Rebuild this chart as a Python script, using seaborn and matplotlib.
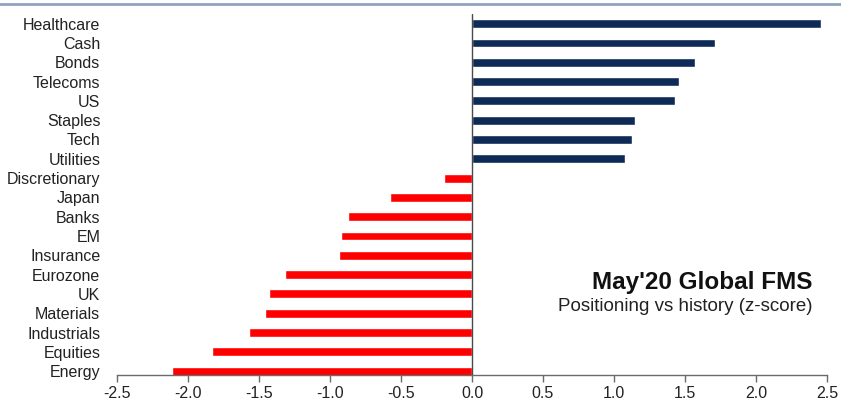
import matplotlib
matplotlib.use("Agg")
import matplotlib.pyplot as plt
import seaborn as sns
import pandas as pd

categories = ["Healthcare", "Cash", "Bonds", "Telecoms", "US", "Staples", "Tech",
              "Utilities", "Discretionary", "Japan", "Banks", "EM", "Insurance",
              "Eurozone", "UK", "Materials", "Industrials", "Equities", "Energy"]
zscores = [2.46, 1.71, 1.57, 1.46, 1.43, 1.15, 1.13, 1.08, -0.20, -0.58, -0.87,
           -0.92, -0.94, -1.32, -1.43, -1.46, -1.57, -1.83, -2.11]
x_ticks = [-2.5, -2.0, -1.5, -1.0, -0.5, 0.0, 0.5, 1.0, 1.5, 2.0, 2.5]

NAVY = "#0e2a57"
RED = "#ff0000"

df = pd.DataFrame({"category": categories, "z": zscores})
palette = {c: (NAVY if v > 0 else RED) for c, v in zip(categories, zscores)}

sns.set_theme(style="white")
plt.rcParams["font.family"] = ["Liberation Sans", "DejaVu Sans"]

fig = plt.figure(figsize=(8.41, 4.08), dpi=100)
ax = fig.add_axes([117 / 841, 1 - 375 / 408, 710 / 841, (375 - 14) / 408])

sns.barplot(data=df, x="z", y="category", hue="category", palette=palette,
            orient="h", width=0.46, legend=False, ax=ax, saturation=1)

ax.set_xlim(-2.5, 2.5)
ax.set_ylim(18.2, -0.5)
ax.axvline(0, color="#4a4a4a", lw=1.0, zorder=3)

ax.set_xticks(x_ticks)
ax.set_xticklabels([f"{t:.1f}" for t in x_ticks])
ax.set_xlabel("")
ax.set_ylabel("")

for s in ["top", "right", "left"]:
    ax.spines[s].set_visible(False)
ax.spines["bottom"].set_color("#6a6a6a")
ax.spines["bottom"].set_linewidth(1.0)
ax.tick_params(axis="x", direction="out", length=5, width=1, color="#6a6a6a",
               labelsize=11.5, labelcolor="#222222", pad=3, bottom=True)
ax.tick_params(axis="y", length=0, labelsize=11.5, labelcolor="#222222", pad=12)

ax.text(0.98, 0.255, "May'20 Global FMS", transform=ax.transAxes, ha="right",
        va="center", fontsize=17.5, fontweight="bold", color="#111111")
ax.text(0.98, 0.19, "Positioning vs history (z-score)", transform=ax.transAxes,
        ha="right", va="center", fontsize=13.5, color="#222222")

# header rule along the top edge
fig.add_artist(plt.Line2D([0, 1], [1 - 3.5 / 408, 1 - 3.5 / 408],
                          transform=fig.transFigure, color="#8ea3bd", lw=2))

fig.savefig("out.png", dpi=100)
